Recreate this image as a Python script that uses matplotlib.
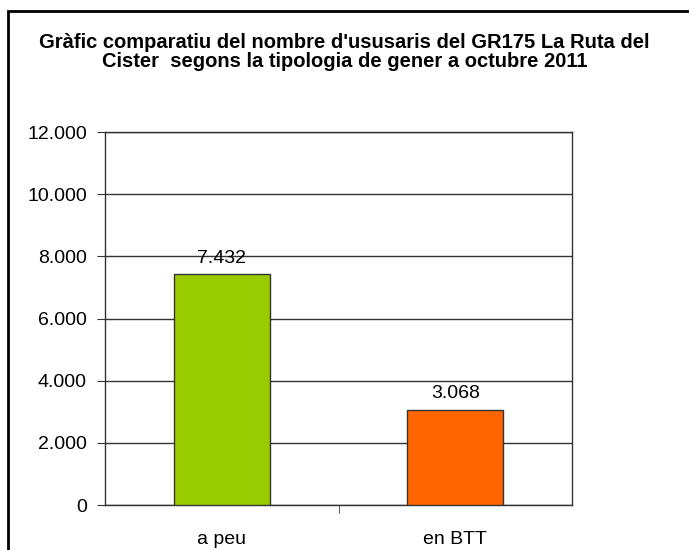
import matplotlib
matplotlib.use('Agg')
import matplotlib.pyplot as plt
from matplotlib.patches import Rectangle
from matplotlib.ticker import FuncFormatter, FixedLocator

# Dades del gràfic
categories = ['a peu', 'en BTT']
usuaris = [7432, 3068]
colors = ['#99CC00', '#FF6600']
y_ticks = [0, 2000, 4000, 6000, 8000, 10000, 12000]

plt.rcParams['font.family'] = ['Liberation Sans', 'DejaVu Sans']


def punt_milers(v, pos=None):
    return f'{int(v):,}'.replace(',', '.')


fig = plt.figure(figsize=(6.89, 5.5), dpi=100)
fig.patch.set_facecolor('white')

# Marc exterior del gràfic (com a l'Excel)
fig.patches.append(Rectangle((8 / 689, -0.1), 1.2, 1 - 11 / 550 + 0.1,
                             transform=fig.transFigure, fill=False,
                             edgecolor='black', linewidth=2))

fig.text(0.5, 1 - 52 / 550,
         "Gràfic comparatiu del nombre d'ususaris del GR175 La Ruta del\n"
         "Cister  segons la tipologia de gener a octubre 2011",
         ha='center', va='center', fontsize=14.5, fontweight='bold',
         linespacing=1.05)

ax = fig.add_axes([105 / 689, 1 - 505 / 550, (572 - 105) / 689, (505 - 132) / 550])
x = list(range(len(categories)))
bars = ax.bar(x, usuaris, width=0.41, color=colors, edgecolor='#333333',
              linewidth=1, zorder=3)

ax.set_xlim(-0.5, len(categories) - 0.5)
ax.set_ylim(0, 12000)
ax.yaxis.set_major_locator(FixedLocator(y_ticks))
ax.yaxis.set_major_formatter(FuncFormatter(punt_milers))
ax.grid(axis='y', color='#333333', linewidth=1, zorder=0)

ax.set_xticks(x)
ax.set_xticklabels(categories)
ax.tick_params(axis='x', length=0, pad=19, labelsize=14)
ax.set_xticks([0.5], minor=True)
ax.tick_params(axis='x', which='minor', length=6, color='#333333', direction='out')
ax.tick_params(axis='y', length=6, color='#333333', labelsize=14, pad=7)

for side in ['left', 'bottom', 'right', 'top']:
    ax.spines[side].set_color('#333333')
    ax.spines[side].set_linewidth(1)

for b, v in zip(bars, usuaris):
    ax.text(b.get_x() + b.get_width() / 2, v + 230, punt_milers(v),
            ha='center', va='bottom', fontsize=14)

fig.savefig('out.png', dpi=100)
